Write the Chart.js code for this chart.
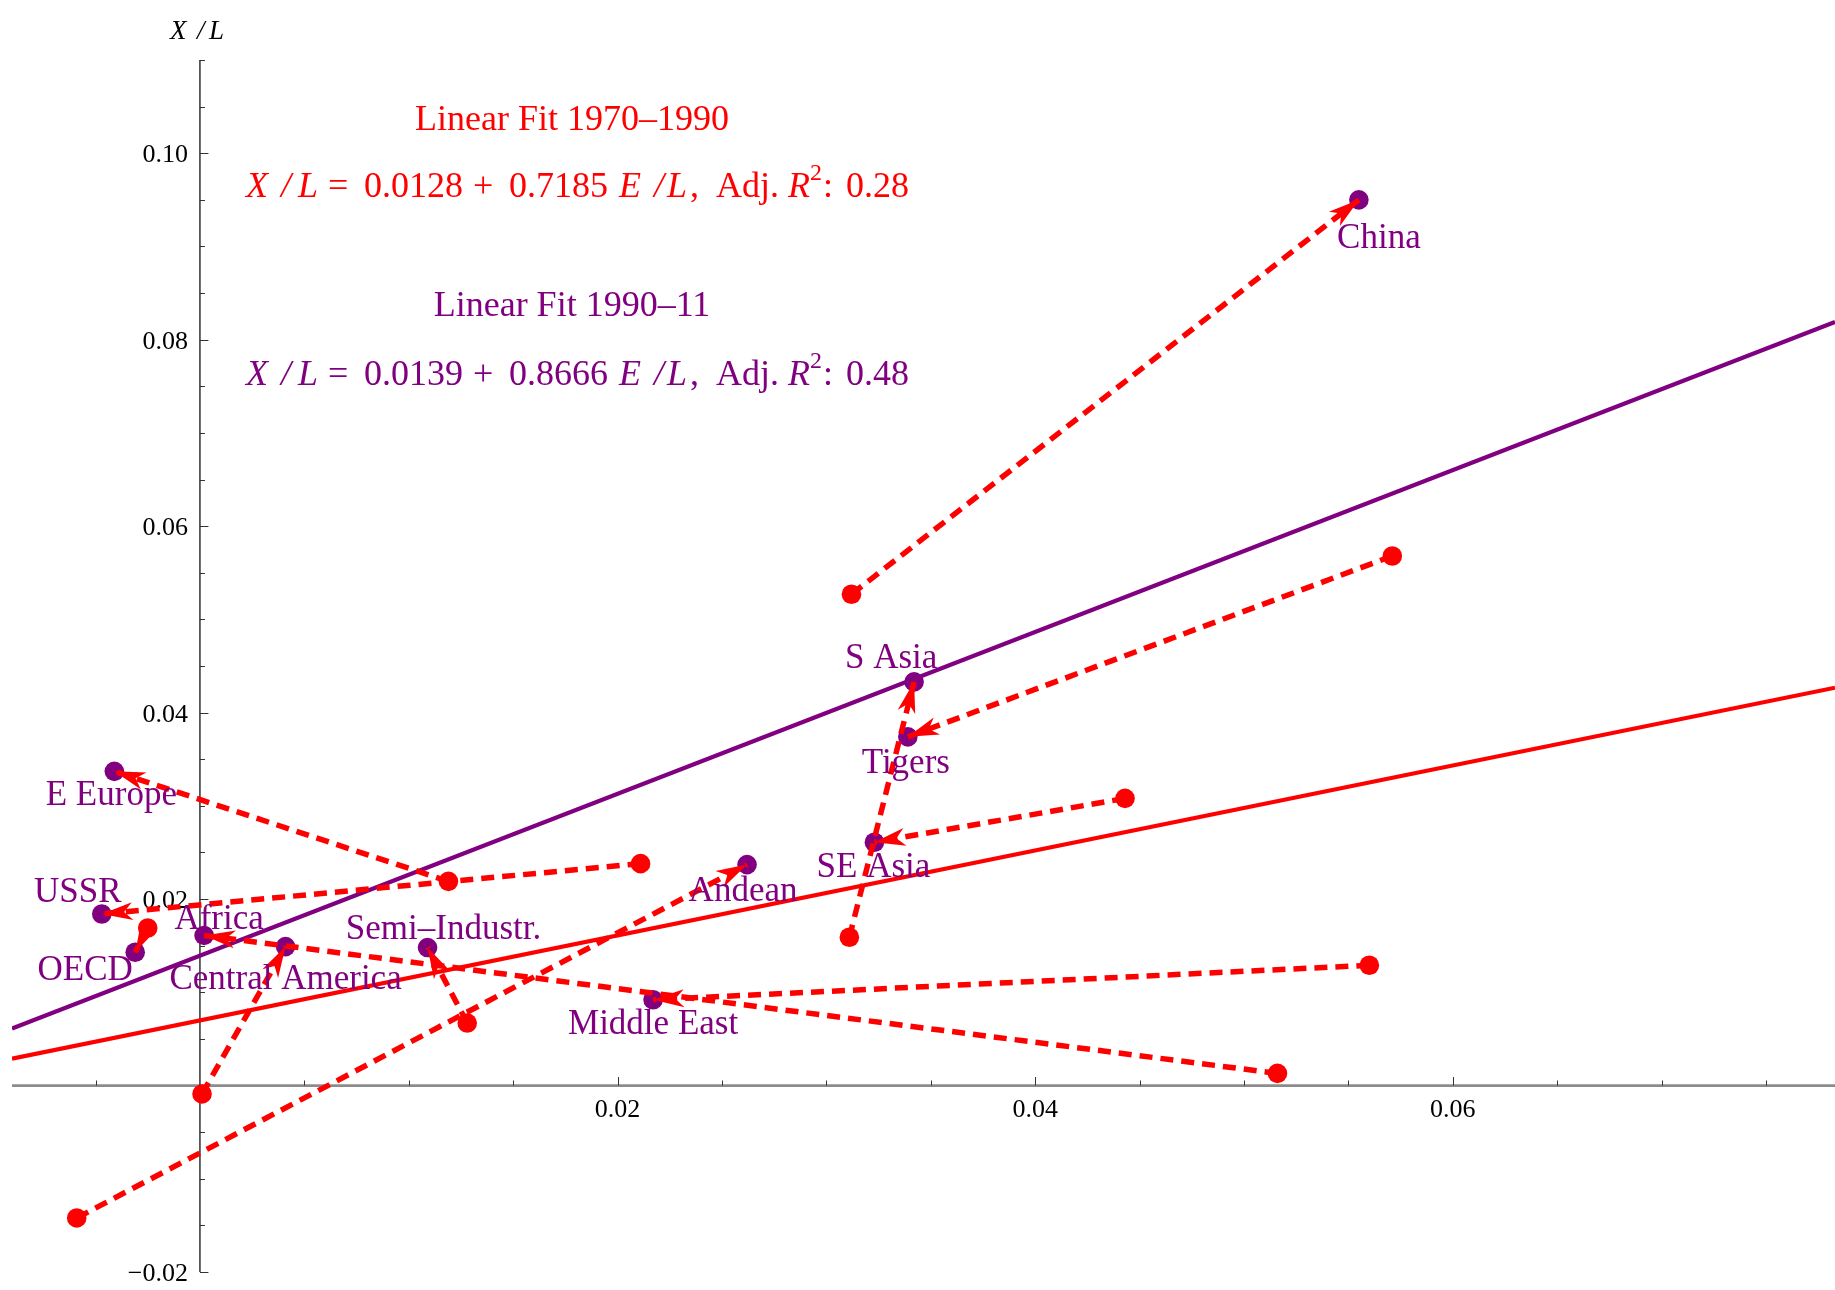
<!DOCTYPE html>
<html>
<head>
<meta charset="utf-8">
<title>Growth of X/L against E/L by region</title>
<script src="https://cdn.jsdelivr.net/npm/chart.js@4.4.1/dist/chart.umd.min.js"></script>
<style>
  html, body { margin: 0; padding: 0; background: #ffffff; }
  #wrap { width: 1835px; height: 1290px; position: relative; overflow: hidden; }
  canvas { display: block; }
</style>
</head>
<body>
<div id="wrap"><canvas id="chart" width="1835" height="1290"></canvas></div>
<script>
// ---- data -------------------------------------------------------------
const regions = ['China', 'S Asia', 'Tigers', 'SE Asia', 'Andean', 'Semi–Industr.',
                 'Middle East', 'Central America', 'Africa', 'E Europe', 'USSR', 'OECD'];

// 1970–1990: growth of E/L (horizontal) and X/L (vertical)
const eGrowth1970 = [0.0312, 0.0311, 0.0571, 0.0443, -0.0059, 0.0128, 0.0560, 0.0001, 0.0516, 0.0119, 0.0211, -0.0025];
const xGrowth1970 = [0.0527, 0.0159, 0.0568, 0.0308, -0.0142, 0.0067, 0.0129, -0.0009, 0.0013, 0.0219, 0.0238, 0.0169];

// 1990–2011
const eGrowth1990 = [0.0555, 0.0342, 0.0339, 0.0323, 0.0262, 0.0109, 0.0217, 0.0041, 0.0002, -0.0041, -0.0047, -0.0031];
const xGrowth1990 = [0.0950, 0.0433, 0.0374, 0.0261, 0.0237, 0.0148, 0.0092, 0.0149, 0.0161, 0.0337, 0.0184, 0.0143];

// fit annotations
const fitTitles     = ['Linear Fit 1970–1990', 'Linear Fit 1990–11'];
const fitIntercepts = ['0.0128', '0.0139'];
const fitSlopes     = ['0.7185', '0.8666'];
const fitAdjR2      = ['0.28', '0.48'];

// axis ticks
const xTickValues = [0.02, 0.04, 0.06];
const xTickLabels = ['0.02', '0.04', '0.06'];
const yTickValues = [-0.02, 0.02, 0.04, 0.06, 0.08, 0.10];
const yTickLabels = ['−0.02', '0.02', '0.04', '0.06', '0.08', '0.10'];
const minorStep = 0.005;

// ---- style ------------------------------------------------------------
const RED = '#ff0000';
const PURPLE = '#800080';
const SERIF = '"Liberation Serif", "Times New Roman", serif';
const X_MIN = -0.009, X_MAX = 0.0783, Y_MIN = -0.02, Y_MAX = 0.11;

// label placement around each 1990–2011 point: [dx, dy to baseline] in px
const labelOffsets = [[20, 48], [-23, -14], [-2, 36], [-1, 35], [-4, 36], [16, -9],
                      [0, 34], [0, 42], [15, -6], [-3, 34], [-24, -12], [-50, 28]];

// ---- least squares fit --------------------------------------------------
function linearFit(xs, ys) {
  const n = xs.length;
  const mx = xs.reduce((s, v) => s + v, 0) / n;
  const my = ys.reduce((s, v) => s + v, 0) / n;
  let sxy = 0, sxx = 0;
  for (let i = 0; i < n; i++) {
    sxy += (xs[i] - mx) * (ys[i] - my);
    sxx += (xs[i] - mx) * (xs[i] - mx);
  }
  const b = sxy / sxx;
  return { a: my - b * mx, b };
}

function fitLine(xs, ys, color) {
  const f = linearFit(xs, ys);
  return {
    type: 'line',
    data: [{ x: X_MIN, y: f.a + f.b * X_MIN }, { x: X_MAX, y: f.a + f.b * X_MAX }],
    borderColor: color, borderWidth: 4.2, pointRadius: 0, tension: 0, fill: false,
    order: 5
  };
}

const toPoints = (xs, ys) => xs.map((v, i) => ({ x: v, y: ys[i] }));

const datasets = [
  fitLine(eGrowth1970, xGrowth1970, RED),
  fitLine(eGrowth1990, xGrowth1990, PURPLE),
  {
    type: 'scatter', label: '1990–2011',
    data: toPoints(eGrowth1990, xGrowth1990),
    backgroundColor: PURPLE, borderWidth: 0, pointRadius: 9.8, order: 4
  },
  {
    type: 'scatter', label: '1970–1990',
    data: toPoints(eGrowth1970, xGrowth1970),
    backgroundColor: RED, borderWidth: 0, pointRadius: 9.8, order: 3
  }
];

// dashed arrows from each region's 1970–1990 position to its 1990–2011 position
regions.forEach((name, i) => {
  datasets.push({
    type: 'line', label: name, arrowHead: true,
    data: [{ x: eGrowth1970[i], y: xGrowth1970[i] }, { x: eGrowth1990[i], y: xGrowth1990[i] }],
    borderColor: RED, borderWidth: 5.5, borderDash: [13, 8], borderCapStyle: 'butt',
    pointRadius: 0, tension: 0, fill: false, order: 2
  });
});

// ---- plugins ------------------------------------------------------------
const axesPlugin = {
  id: 'crossAxes',
  beforeDatasetsDraw(chart) {
    const { ctx, chartArea: ca } = chart;
    const xs = chart.scales.x, ys = chart.scales.y;
    const ox = xs.getPixelForValue(0), oy = ys.getPixelForValue(0);
    ctx.save();

    // horizontal axis
    ctx.strokeStyle = '#8c8c8c';
    ctx.lineWidth = 2.8;
    ctx.beginPath(); ctx.moveTo(ca.left, oy); ctx.lineTo(ca.right, oy); ctx.stroke();

    // vertical axis
    ctx.strokeStyle = '#111111';
    ctx.lineWidth = 1.3;
    ctx.beginPath(); ctx.moveTo(ox, ca.top); ctx.lineTo(ox, ca.bottom); ctx.stroke();

    // tick marks
    ctx.strokeStyle = '#333333';
    ctx.lineWidth = 1;
    for (let k = Math.ceil(X_MIN / minorStep); k * minorStep <= X_MAX + 1e-9; k++) {
      if (k === 0) continue;
      const px = Math.round(xs.getPixelForValue(k * minorStep)) + 0.5;
      const len = (k % 4 === 0) ? 8.5 : 5;
      ctx.beginPath(); ctx.moveTo(px, oy); ctx.lineTo(px, oy - len); ctx.stroke();
    }
    for (let k = Math.ceil(Y_MIN / minorStep); k * minorStep <= Y_MAX + 1e-9; k++) {
      if (k === 0) continue;
      const py = Math.round(ys.getPixelForValue(k * minorStep)) + 0.5;
      const len = (k % 4 === 0) ? 8.5 : 5;
      ctx.beginPath(); ctx.moveTo(ox, py); ctx.lineTo(ox + len, py); ctx.stroke();
    }

    // tick labels
    ctx.fillStyle = '#000000';
    ctx.font = `26px ${SERIF}`;
    ctx.textBaseline = 'alphabetic';
    ctx.textAlign = 'center';
    xTickValues.forEach((v, i) => {
      ctx.fillText(xTickLabels[i], xs.getPixelForValue(v), oy + 31.5);
    });
    ctx.textAlign = 'right';
    yTickValues.forEach((v, i) => {
      ctx.fillText(yTickLabels[i], ox - 12, ys.getPixelForValue(v) + 9);
    });
    ctx.restore();
  }
};

const arrowPlugin = {
  id: 'arrowHeads',
  afterDatasetDraw(chart, args) {
    const ds = chart.data.datasets[args.index];
    if (!ds.arrowHead) return;
    const pts = args.meta.data;
    if (pts.length < 2) return;
    const a = pts[0], b = pts[1];
    const ang = Math.atan2(b.y - a.y, b.x - a.x);
    const L = 31, W = 9;
    const ctx = chart.ctx;
    ctx.save();
    ctx.translate(b.x, b.y);
    ctx.rotate(ang);
    ctx.fillStyle = ds.borderColor;
    ctx.beginPath();
    ctx.moveTo(0, 0);
    ctx.lineTo(-L, -W);
    ctx.lineTo(-0.72 * L, 0);
    ctx.lineTo(-L, W);
    ctx.closePath();
    ctx.fill();
    ctx.restore();
  }
};

function drawRuns(ctx, runs, x0, baseline, color) {
  ctx.fillStyle = color;
  ctx.textAlign = 'left';
  ctx.textBaseline = 'alphabetic';
  runs.forEach(r => {
    ctx.font = `${r.it ? 'italic ' : ''}${r.size || 36}px ${SERIF}`;
    ctx.fillText(r.t, x0 + r.dx, baseline - (r.raise || 0));
  });
}

function equationRuns(i) {
  return [
    { t: 'X', dx: 0, it: true }, { t: '/', dx: 35, it: true }, { t: 'L', dx: 52, it: true },
    { t: '=', dx: 82 }, { t: fitIntercepts[i], dx: 118 }, { t: '+', dx: 227 },
    { t: fitSlopes[i], dx: 263 },
    { t: 'E', dx: 373, it: true }, { t: '/', dx: 408, it: true }, { t: 'L', dx: 421, it: true },
    { t: ',', dx: 444 }, { t: 'Adj.', dx: 470 },
    { t: 'R', dx: 542, it: true }, { t: '2', dx: 564, size: 24, raise: 17 },
    { t: ':', dx: 577 }, { t: fitAdjR2[i], dx: 600 }
  ];
}

const textPlugin = {
  id: 'annotations',
  afterDatasetsDraw(chart) {
    const ctx = chart.ctx;
    const xs = chart.scales.x, ys = chart.scales.y;
    ctx.save();

    // region names next to the 1990–2011 points
    ctx.fillStyle = PURPLE;
    ctx.font = `35px ${SERIF}`;
    ctx.textAlign = 'center';
    ctx.textBaseline = 'alphabetic';
    regions.forEach((name, i) => {
      const px = xs.getPixelForValue(eGrowth1990[i]);
      const py = ys.getPixelForValue(xGrowth1990[i]);
      ctx.fillText(name, px + labelOffsets[i][0], py + labelOffsets[i][1]);
    });

    // fit equations
    const colors = [RED, PURPLE];
    const titleBase = [130, 316];
    const eqBase = [197, 385];
    [0, 1].forEach(i => {
      ctx.fillStyle = colors[i];
      ctx.font = `36px ${SERIF}`;
      ctx.textAlign = 'center';
      ctx.fillText(fitTitles[i], 572, titleBase[i]);
      drawRuns(ctx, equationRuns(i), 246, eqBase[i], colors[i]);
    });

    // vertical axis title
    drawRuns(ctx, [
      { t: 'X', dx: 0, it: true, size: 27 },
      { t: '/', dx: 27, it: true, size: 27 },
      { t: 'L', dx: 39, it: true, size: 27 }
    ], 170, 39, '#000000');

    ctx.restore();
  }
};

// ---- chart --------------------------------------------------------------
new Chart(document.getElementById('chart'), {
  type: 'scatter',
  data: { datasets },
  options: {
    responsive: false,
    animation: false,
    devicePixelRatio: 1,
    events: [],
    layout: { padding: { left: 12, top: 60, right: 0, bottom: 18 }, autoPadding: false },
    plugins: { legend: { display: false }, tooltip: { enabled: false } },
    scales: {
      x: { type: 'linear', min: X_MIN, max: X_MAX, display: false },
      y: { type: 'linear', min: Y_MIN, max: Y_MAX, display: false }
    }
  },
  plugins: [axesPlugin, arrowPlugin, textPlugin]
});
</script>
</body>
</html>
